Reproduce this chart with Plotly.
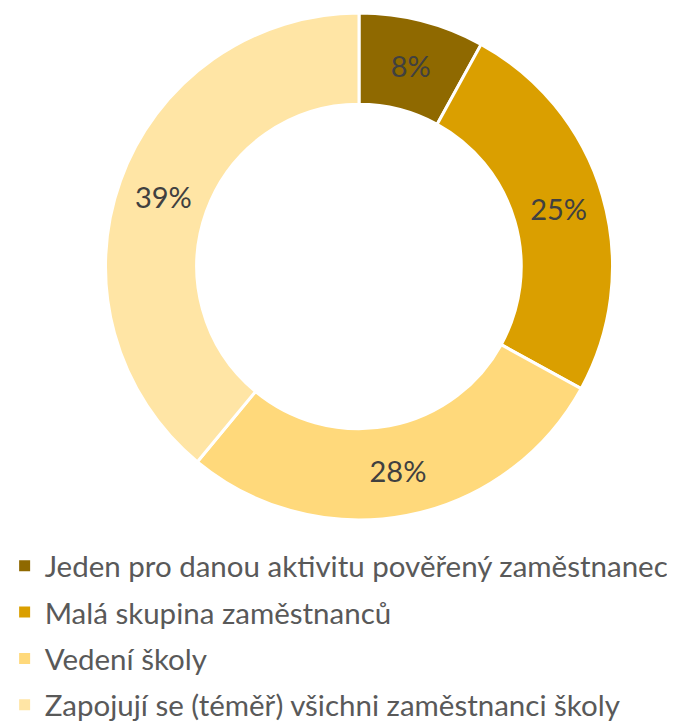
import plotly.graph_objects as go

categories = [
    "Jeden pro danou aktivitu pověřený zaměstnanec",
    "Malá skupina zaměstnanců",
    "Vedení školy",
    "Zapojují se (téměř) všichni zaměstnanci školy",
]
values = [8, 25, 28, 39]
colors = ["#8F6900", "#DA9F00", "#FFD97B", "#FFE5A5"]

W, H = 675, 727
FONT = "Lato"

fig = go.Figure()
fig.add_trace(go.Pie(
    labels=categories,
    values=values,
    sort=False,
    direction="clockwise",
    rotation=0,
    hole=0.64,
    marker=dict(colors=colors, line=dict(color="white", width=3)),
    texttemplate="%{value}%",
    textposition="inside",
    insidetextorientation="horizontal",
    textfont=dict(family=FONT, size=29, color="#404040"),
    showlegend=False,
    domain=dict(x=[97.5 / W, 604.5 / W], y=[1 - 512 / H, 1 - 5 / H]),
))

for i, (c, col) in enumerate(zip(categories, colors)):
    fig.add_trace(go.Scatter(
        x=[None], y=[None], mode="markers", name=c,
        marker=dict(symbol="square", size=11, color=col),
        legendgroup=f"g{i}", showlegend=True,
    ))

fig.update_layout(
    width=W, height=H,
    margin=dict(l=0, r=0, t=0, b=0, autoexpand=False),
    paper_bgcolor="white", plot_bgcolor="white",
    xaxis=dict(visible=False), yaxis=dict(visible=False),
    legend=dict(
        x=-0.005, y=1 - 532 / H, xanchor="left", yanchor="top",
        font=dict(family=FONT, size=29.5, color="#595959"),
        tracegroupgap=5, itemsizing="trace",
        bgcolor="rgba(0,0,0,0)",
    ),
)

fig.write_html("out.html")
